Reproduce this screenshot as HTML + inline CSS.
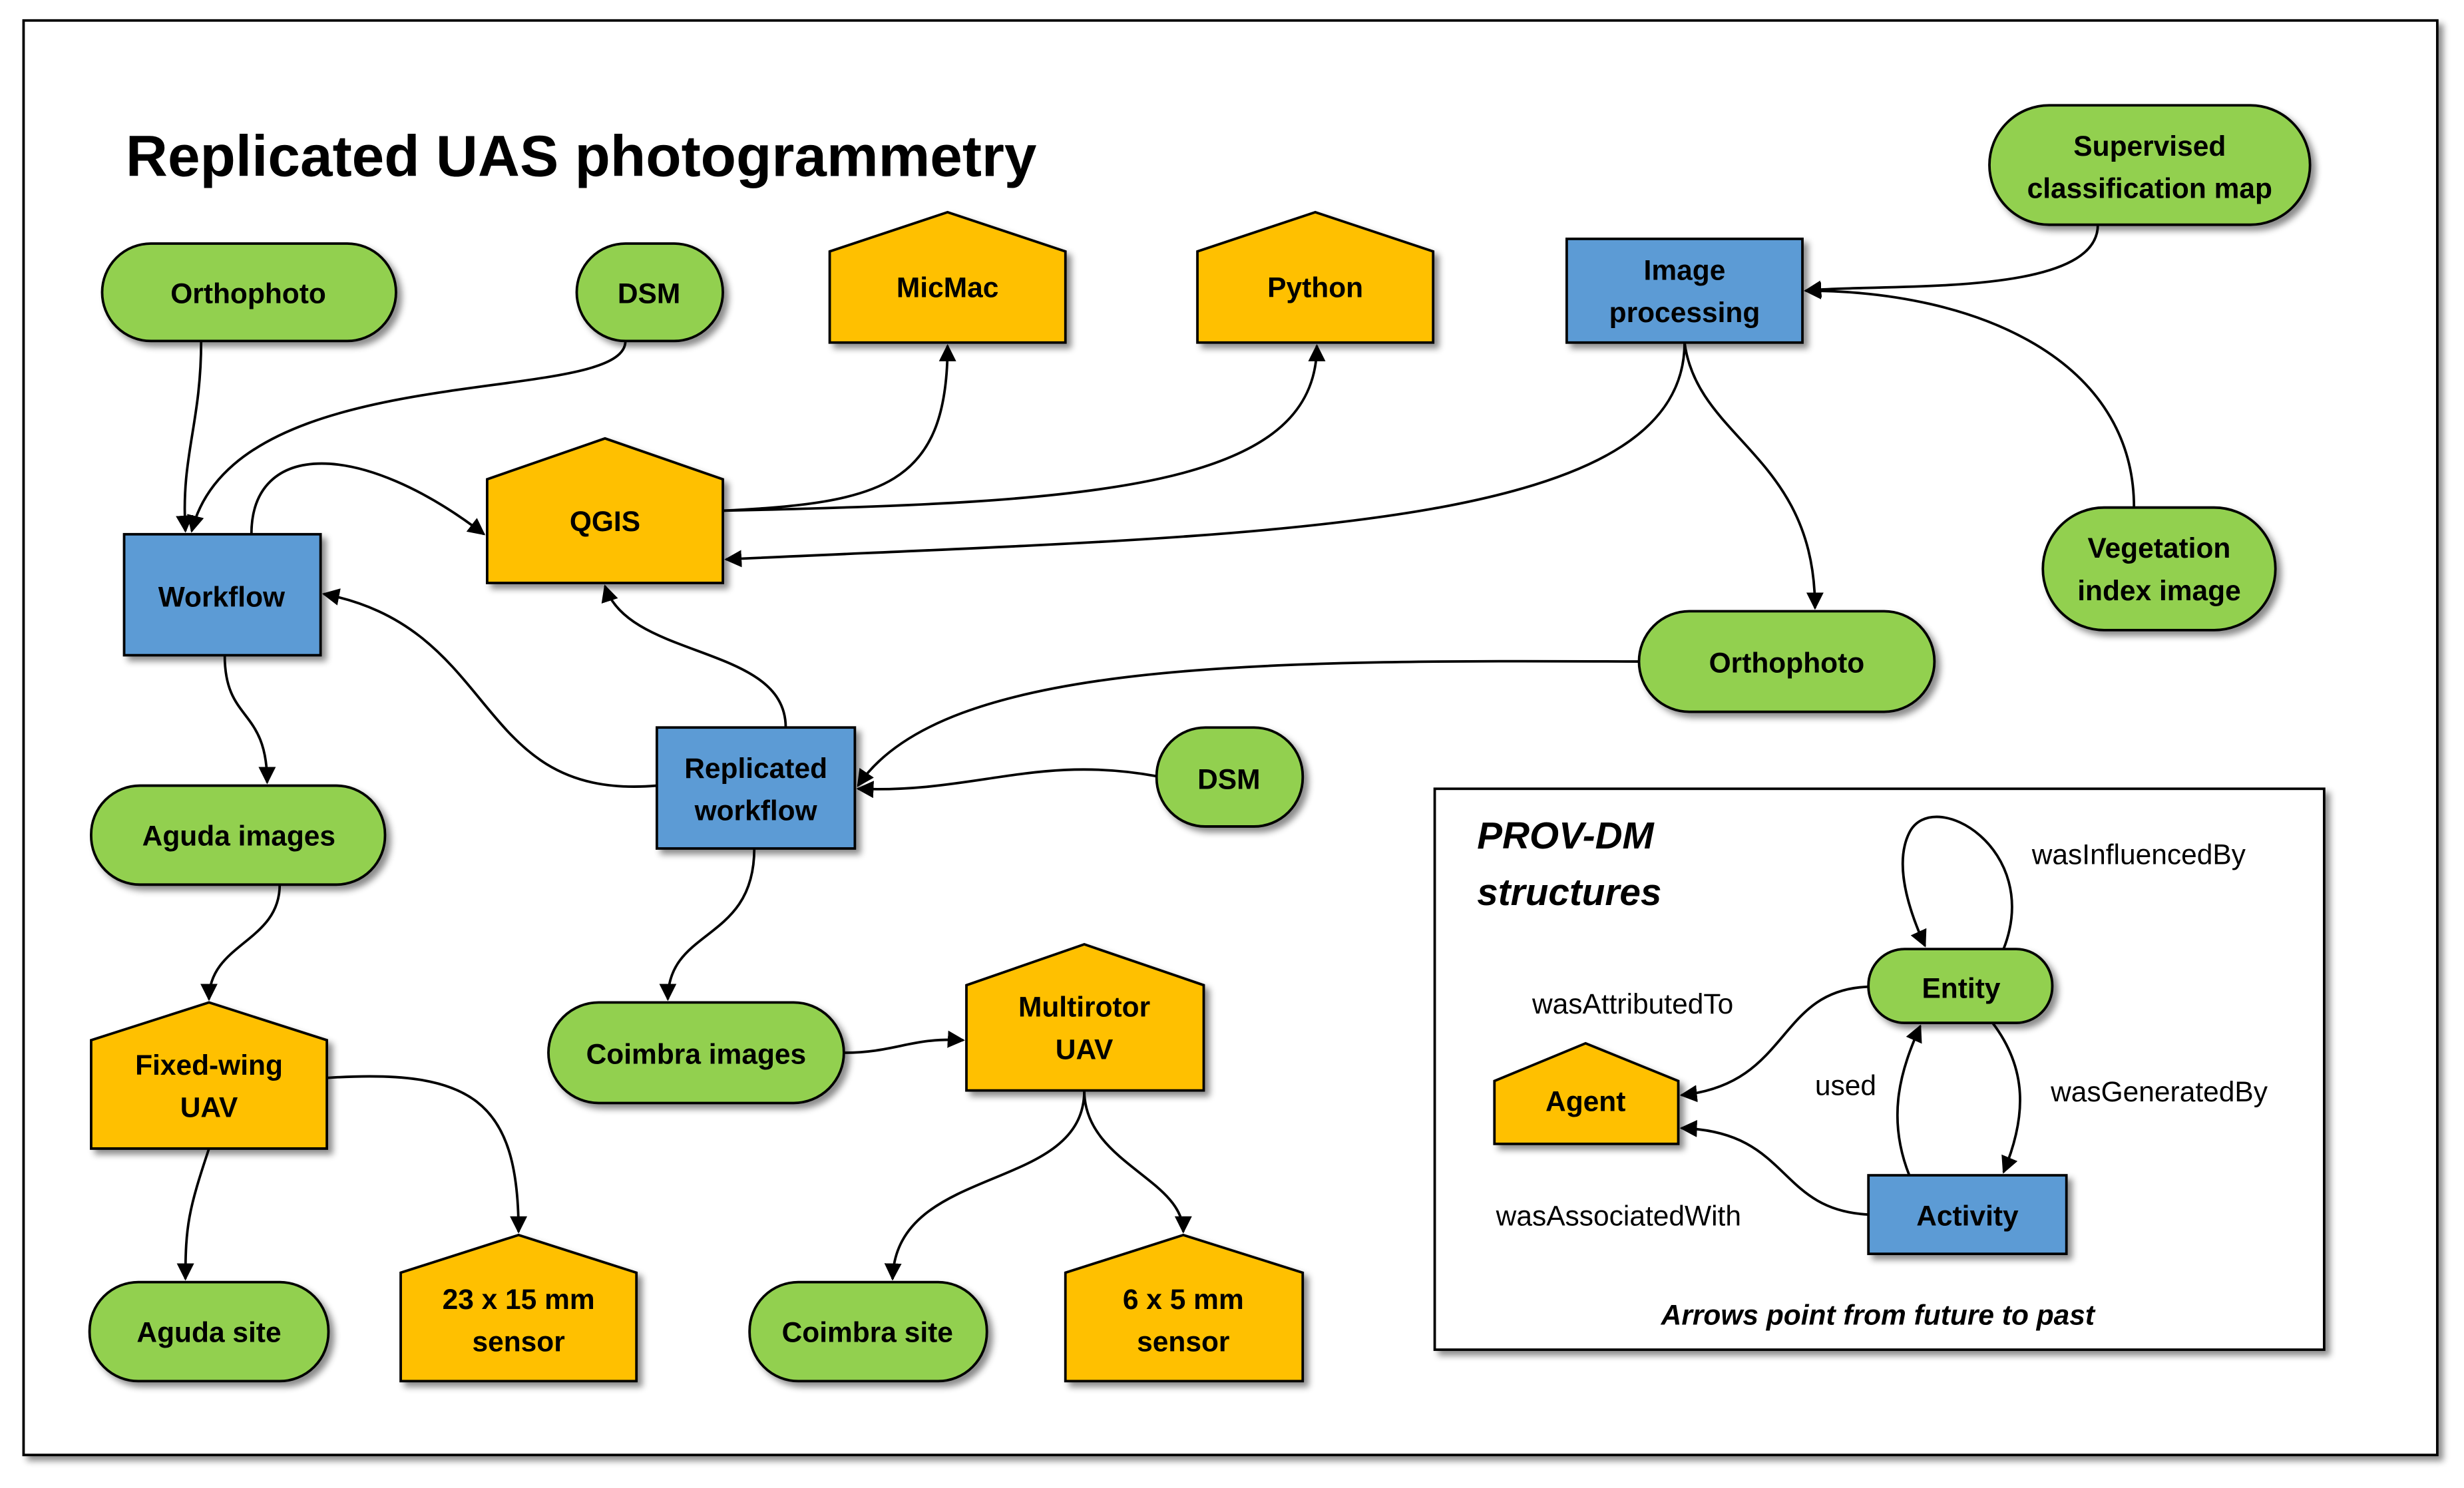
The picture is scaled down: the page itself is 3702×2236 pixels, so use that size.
<!DOCTYPE html>
<html><head><meta charset="utf-8"><style>
html,body{margin:0;padding:0;background:#fff}
svg{display:block}
text{font-family:"Liberation Sans",sans-serif;font-weight:bold;fill:#000}
.n{stroke:#000;stroke-width:1.6}
.g{fill:#92d050}.o{fill:#ffc000}.b{fill:#5b9bd5}
.e{fill:none;stroke:#000;stroke-width:1.6}
.l{font-weight:normal;font-size:18px}
</style></head><body>
<svg width="3702" height="2236" viewBox="0 0 1568 947" xmlns="http://www.w3.org/2000/svg">
<defs>
<marker id="a" viewBox="0 0 10 10" refX="9" refY="5" markerWidth="11" markerHeight="11" orient="auto-start-reverse" markerUnits="userSpaceOnUse"><path d="M0 0L10 5L0 10z" fill="#000"/></marker>
<filter id="s" x="-20%" y="-20%" width="150%" height="150%"><feDropShadow dx="3" dy="3" stdDeviation="2" flood-color="#000" flood-opacity="0.45"/></filter>
</defs>
<rect x="15" y="13" width="1536" height="913" fill="#fff" stroke="#000" stroke-width="1.6" filter="url(#s)"/>
<text x="80" y="112" font-size="37">Replicated UAS photogrammetry</text>

<g font-size="18" text-anchor="middle">
<g filter="url(#s)">
<rect class="n g" x="65" y="155" width="187" height="62" rx="31"/>
<rect class="n g" x="367" y="155" width="93" height="62" rx="31"/>
<path class="n o" d="M528 160L603 135L678 160L678 218L528 218Z"/>
<path class="n o" d="M762 160L837 135L912 160L912 218L762 218Z"/>
<rect class="n b" x="997" y="152" width="150" height="66"/>
<rect class="n g" x="1266" y="67" width="204" height="76" rx="38"/>
<path class="n o" d="M310 305L385 279L460 305L460 371L310 371Z"/>
<rect class="n b" x="79" y="340" width="125" height="77"/>
<rect class="n g" x="1300" y="323" width="148" height="78" rx="39"/>
<rect class="n g" x="1043" y="389" width="188" height="64" rx="32"/>
<rect class="n b" x="418" y="463" width="126" height="77"/>
<rect class="n g" x="736" y="463" width="93" height="63" rx="31"/>
<rect class="n g" x="58" y="500" width="187" height="63" rx="31"/>
<path class="n o" d="M58 662L133 638L208 662L208 731L58 731Z"/>
<rect class="n g" x="349" y="638" width="188" height="64" rx="32"/>
<path class="n o" d="M615 627L690 601L766 627L766 694L615 694Z"/>
<rect class="n g" x="57" y="816" width="152" height="63" rx="31"/>
<path class="n o" d="M255 810L330 786L405 810L405 879L255 879Z"/>
<rect class="n g" x="477" y="816" width="151" height="63" rx="31"/>
<path class="n o" d="M678 810L753 786L829 810L829 879L678 879Z"/>
<rect x="913" y="502" width="566" height="357" fill="#fff" stroke="#000" stroke-width="1.6"/>
</g>
<g filter="url(#s)">
<rect class="n g" x="1189" y="604" width="117" height="47" rx="23"/>
<path class="n o" d="M951 688L1009 664L1068 688L1068 728L951 728Z"/>
<rect class="n b" x="1189" y="748" width="126" height="50"/>
</g>

<text x="158" y="193">Orthophoto</text>
<text x="413" y="193">DSM</text>
<text x="603" y="189">MicMac</text>
<text x="837" y="189">Python</text>
<text x="1072" y="178">Image</text><text x="1072" y="205">processing</text>
<text x="1368" y="99">Supervised</text><text x="1368" y="126">classification map</text>
<text x="385" y="338">QGIS</text>
<text x="141" y="386">Workflow</text>
<text x="1374" y="355">Vegetation</text><text x="1374" y="382">index image</text>
<text x="1137" y="428">Orthophoto</text>
<text x="481" y="495">Replicated</text><text x="481" y="522">workflow</text>
<text x="782" y="502">DSM</text>
<text x="152" y="538">Aguda images</text>
<text x="133" y="684">Fixed-wing</text><text x="133" y="711">UAV</text>
<text x="443" y="677">Coimbra images</text>
<text x="690" y="647">Multirotor</text><text x="690" y="674">UAV</text>
<text x="133" y="854">Aguda site</text>
<text x="330" y="833">23 x 15 mm</text><text x="330" y="860">sensor</text>
<text x="552" y="854">Coimbra site</text>
<text x="753" y="833">6 x 5 mm</text><text x="753" y="860">sensor</text>
<text x="1248" y="635">Entity</text>
<text x="1009" y="707">Agent</text>
<text x="1252" y="780">Activity</text>
</g>

<text x="940" y="540" font-size="24" font-style="italic">PROV-DM</text>
<text x="940" y="576" font-size="24" font-style="italic">structures</text>
<text class="l" x="1293" y="550">wasInfluencedBy</text>
<text class="l" x="975" y="645">wasAttributedTo</text>
<text class="l" x="1155" y="697">used</text>
<text class="l" x="1305" y="701">wasGeneratedBy</text>
<text class="l" x="952" y="780">wasAssociatedWith</text>
<text x="1195" y="843" font-size="18" font-style="italic" text-anchor="middle">Arrows point from future to past</text>

<g class="e" marker-end="url(#a)">
<path d="M128 217C128 270 115 290 118 338"/>
<path d="M398 217C398 260 150 225 122 338"/>
<path d="M160 340C160 280 230 280 308 340"/>
<path d="M460 325C560 320 603 310 603 220"/>
<path d="M460 325C700 320 838 310 838 220"/>
<path d="M1072 218C1072 340 800 340 462 356"/>
<path d="M1072 218C1080 280 1155 290 1155 387"/>
<path d="M1335 143C1335 190 1200 180 1149 185"/>
<path d="M1358 323C1358 230 1260 185 1149 185"/>
<path d="M500 463C500 410 400 420 385 373"/>
<path d="M418 500C300 510 320 400 206 378"/>
<path d="M1043 421C800 420 600 420 546 500"/>
<path d="M736 494C660 480 620 505 546 502"/>
<path d="M143 417C143 460 170 450 170 498"/>
<path d="M480 540C480 600 425 590 425 636"/>
<path d="M178 563C178 600 133 600 133 636"/>
<path d="M208 686C300 680 330 700 330 784"/>
<path d="M133 731C120 770 118 780 118 814"/>
<path d="M537 670C570 670 580 660 613 662"/>
<path d="M690 694C690 760 570 740 568 814"/>
<path d="M690 694C690 740 753 750 753 784"/>
<path d="M1275 604C1300 540 1230 500 1215 530C1205 550 1215 580 1225 602"/>
<path d="M1189 628C1130 630 1140 690 1070 697"/>
<path d="M1189 773C1130 770 1140 720 1070 718"/>
<path d="M1215 748C1200 710 1210 680 1222 653"/>
<path d="M1268 651C1290 680 1290 710 1275 746"/>
</g>
</svg>
</body></html>
